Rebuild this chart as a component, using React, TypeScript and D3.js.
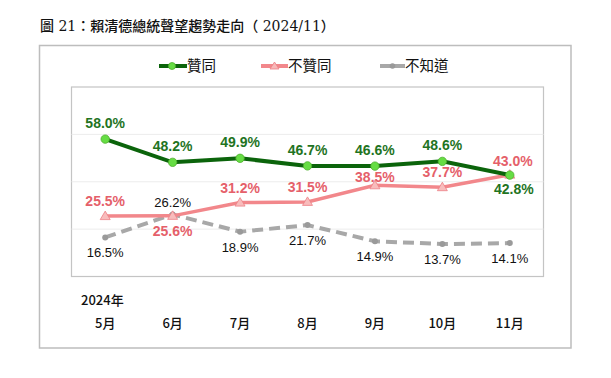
import React from "react";
import * as d3 from "d3";

const months = ["5月", "6月", "7月", "8月", "9月", "10月", "11月"];
const approve = [58.0, 48.2, 49.9, 46.7, 46.6, 48.6, 42.8];
const disapprove = [25.5, 25.6, 31.2, 31.5, 38.5, 37.7, 43.0];
const unknown = [16.5, 26.2, 18.9, 21.7, 14.9, 13.7, 14.1];
// label placement: -1 above, +1 below
const approvePos = [-1, -1, -1, -1, -1, -1, 1];
const disapprovePos = [-1, 1, -1, -1, -1, -1, -1];
const unknownPos = [1, -1, 1, 1, 1, 1, 1];
const yTicks = [0, 20, 40, 60, 80];
const title = "圖 21：賴清德總統聲望趨勢走向（ 2024/11）";
const yearLabel = "2024年";

const W = 611;
const H = 378;
const plot = { left: 71.5, right: 543.5, top: 87, bottom: 276.5 };

export default function App() {
  const x = d3
    .scalePoint<string>()
    .domain(months)
    .range([plot.left, plot.right])
    .padding(0.5);
  const y = d3.scaleLinear().domain([0, 80]).range([plot.bottom, plot.top]);
  const line = d3
    .line<number>()
    .x((_, i) => x(months[i]) as number)
    .y((d) => y(d));

  const green = "#0b640b";
  const greenText = "#1f741f";
  const red = "#f2878b";
  const redText = "#e5606a";
  const gray = "#a8a8a8";

  const fontLatin = "'Liberation Sans', Arial, sans-serif";
  const fontCJK = "'Noto Sans CJK TC', 'Noto Sans CJK SC', sans-serif";

  return (
    <svg
      width={W}
      height={H}
      style={{ position: "absolute", left: 0, top: 0, background: "#fff" }}
    >
      <text
        x={40}
        y={31}
        fontFamily={"'DejaVu Serif', 'Noto Sans CJK TC', serif"}
        fontSize={14}
        fontWeight={500}
        fill="#111"
      >
        {title}
      </text>
      {/* outer frame */}
      <rect
        x={39.5}
        y={45.5}
        width={531.5}
        height={302.5}
        fill="none"
        stroke="#bdbdbd"
        strokeWidth={1.5}
      />
      {/* legend */}
      <g fontFamily={fontCJK} fontSize={14.5} fill="#111">
        <line x1={159} x2={187} y1={66} y2={66} stroke={green} strokeWidth={4} />
        <circle cx={172} cy={66} r={3.5} fill="#66dd44" stroke="#4cae2c" strokeWidth={0.8} />
        <text x={187} y={71}>贊同</text>
        <line x1={261} x2={288} y1={66} y2={66} stroke={red} strokeWidth={4} />
        <path d="M274.5,62 L279,69 L270,69 Z" fill="#f7b8b8" stroke="#ec7f85" strokeWidth={0.8} />
        <text x={288} y={71}>不贊同</text>
        <line x1={380} x2={405} y1={66} y2={66} stroke={gray} strokeWidth={4} />
        <circle cx={392.5} cy={66} r={2.8} fill="#999" />
        <text x={405} y={71}>不知道</text>
      </g>
      {/* plot box */}
      <rect
        x={plot.left}
        y={plot.top}
        width={plot.right - plot.left}
        height={plot.bottom - plot.top}
        fill="none"
        stroke="#c4c4c4"
        strokeWidth={1.2}
      />
      {yTicks.slice(1, -1).map((t) => (
        <line
          key={t}
          x1={plot.left}
          x2={plot.right}
          y1={y(t)}
          y2={y(t)}
          stroke="#ececec"
          strokeWidth={1}
        />
      ))}
      {/* unknown dashed */}
      <path
        d={line(unknown) || ""}
        fill="none"
        stroke={gray}
        strokeWidth={4}
        strokeDasharray="11 6"
      />
      {unknown.map((v, i) => (
        <circle key={i} cx={x(months[i])} cy={y(v)} r={3} fill="#9a9a9a" />
      ))}
      {/* disapprove */}
      <path d={line(disapprove) || ""} fill="none" stroke={red} strokeWidth={3.5} />
      {disapprove.map((v, i) => {
        const cx = x(months[i]) as number;
        const cy = y(v);
        return (
          <path
            key={i}
            d={`M${cx},${cy - 5} L${cx + 5},${cy + 3.5} L${cx - 5},${cy + 3.5} Z`}
            fill="#f8bcbc"
            stroke="#ec8087"
            strokeWidth={0.8}
          />
        );
      })}
      {/* approve */}
      <path d={line(approve) || ""} fill="none" stroke={green} strokeWidth={4} />
      {approve.map((v, i) => (
        <circle
          key={i}
          cx={x(months[i])}
          cy={y(v)}
          r={4.2}
          fill="#66dd44"
          stroke="#4cae2c"
          strokeWidth={0.8}
        />
      ))}
      {/* labels */}
      <g fontFamily={fontLatin} textAnchor="middle">
        {approve.map((v, i) => (
          <text
            key={"a" + i}
            x={(x(months[i]) as number) + (i === 6 ? 4 : 0)}
            y={y(v) + (approvePos[i] < 0 ? -11 : 19)}
            fontSize={14}
            fontWeight="bold"
            fill={greenText}
          >
            {v.toFixed(1)}%
          </text>
        ))}
        {disapprove.map((v, i) => (
          <text
            key={"d" + i}
            x={(x(months[i]) as number) + (i === 6 ? 3 : 0)}
            y={y(v) + (disapprovePos[i] < 0 ? (i === 4 ? -3 : i === 6 ? -9 : -10) : 20)}
            fontSize={14}
            fontWeight="bold"
            fill={redText}
          >
            {v.toFixed(1)}%
          </text>
        ))}
        {unknown.map((v, i) => (
          <text
            key={"u" + i}
            x={x(months[i])}
            y={y(v) + (unknownPos[i] < 0 ? -7 : 20)}
            fontSize={13}
            fill="#111"
          >
            {v.toFixed(1)}%
          </text>
        ))}
      </g>
      {/* x axis labels */}
      <g fontFamily={fontCJK} fontSize={13} fontWeight={500} fill="#111">
        <text x={81} y={305}>{yearLabel}</text>
        {months.map((m) => (
          <text key={m} x={x(m)} y={328} textAnchor="middle">
            {m}
          </text>
        ))}
      </g>
    </svg>
  );
}
